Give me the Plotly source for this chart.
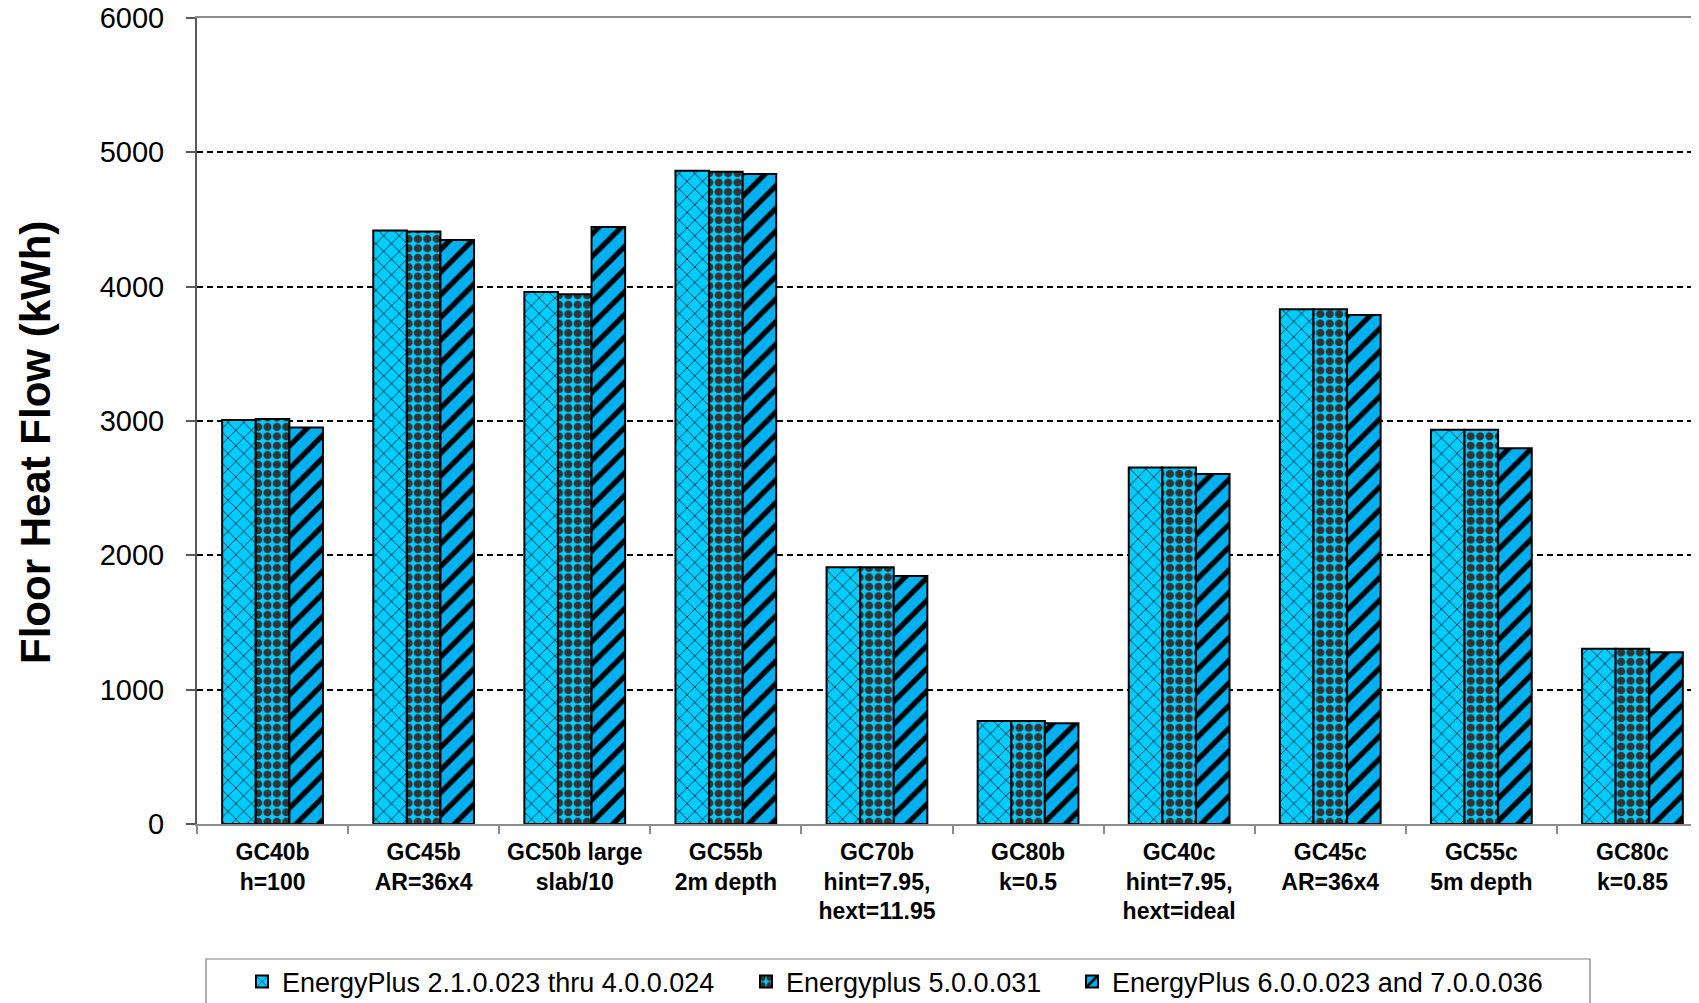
import plotly.graph_objects as go

categories = [
    "GC40b<br>h=100",
    "GC45b<br>AR=36x4",
    "GC50b large<br>slab/10",
    "GC55b<br>2m depth",
    "GC70b<br>hint=7.95,<br>hext=11.95",
    "GC80b<br>k=0.5",
    "GC40c<br>hint=7.95,<br>hext=ideal",
    "GC45c<br>AR=36x4",
    "GC55c<br>5m depth",
    "GC80c<br>k=0.85",
]
series_names = [
    "EnergyPlus 2.1.0.023 thru 4.0.0.024",
    "Energyplus 5.0.0.031",
    "EnergyPlus 6.0.0.023 and 7.0.0.036",
]
ep_2_1_to_4_0 = [3008, 4419, 3960, 4863, 1911, 766, 2653, 3831, 2935, 1304]
ep_5_0 = [3014, 4411, 3944, 4855, 1911, 766, 2653, 3831, 2935, 1304]
ep_6_0_and_7_0 = [2952, 4347, 4444, 4839, 1847, 750, 2605, 3790, 2798, 1279]
y_ticks = [0, 1000, 2000, 3000, 4000, 5000, 6000]
y_title = "Floor Heat Flow (kWh)"

FONT = "Arial, Liberation Sans, sans-serif"
OFF = 8                      # default page body margin
W, H = 1699, 1003
L, T, B, R = 197 - OFF, 18 - OFF, 179 + OFF, OFF
plot_h = H - T - B           # 806
plot_w = W - L - R           # 1502
y0px = T + plot_h            # figure px of the x axis


def fx(px):  # page px -> paper x
    return (px - OFF - L) / plot_w


def fy(px):  # page px -> paper y
    return (y0px - (px - OFF)) / plot_h


styles = [
    dict(shape="x", bgcolor="#00CCFF", fgcolor="#000000", size=11, solidity=0.12),
    dict(shape=".", bgcolor="#00CCFF", fgcolor="#333333", size=9.4, solidity=0.6),
    dict(shape="/", bgcolor="#00B0F0", fgcolor="#000000", size=16, solidity=0.33),
]
legend_ids = ["legend", "legend2", "legend3"]
legend_text_px = [283, 787, 1113]   # page px where each legend text starts

fig = go.Figure()
for name, vals, st, lg in zip(series_names, [ep_2_1_to_4_0, ep_5_0, ep_6_0_and_7_0], styles, legend_ids):
    fig.add_trace(go.Bar(
        x=categories, y=vals, name=name, legend=lg,
        marker=dict(
            color=st["bgcolor"],
            line=dict(color="#000000", width=2),
            pattern=dict(shape=st["shape"], bgcolor=st["bgcolor"], fgcolor=st["fgcolor"],
                         fgopacity=1, size=st["size"], solidity=st["solidity"],
                         fillmode="overlay"),
        ),
    ))

legend_common = dict(
    orientation="h", xref="container", yref="container",
    xanchor="left", yanchor="middle", y=1 - (982 - OFF) / H,
    font=dict(family=FONT, size=27, color="#000000"),
    bgcolor="rgba(0,0,0,0)", borderwidth=0,
)
layout_legends = {}
for lg, tx in zip(legend_ids, legend_text_px):
    layout_legends[lg] = dict(legend_common, x=(tx - OFF - 41) / W)

fig.update_layout(
    width=W, height=H,
    margin=dict(l=L, r=R, t=T, b=B, autoexpand=False),
    paper_bgcolor="white", plot_bgcolor="white",
    barmode="group", bargap=0.333, bargroupgap=0,
    font=dict(family=FONT, color="#000000"),
    showlegend=True,
    **layout_legends,
)
# legend frame
fig.add_shape(
    type="rect", xref="paper", yref="paper", layer="below",
    x0=fx(206), x1=fx(1590), y0=fy(1045), y1=fy(959),
    line=dict(color="#808080", width=1.2), fillcolor="white",
)
fig.add_annotation(
    text="<b>" + y_title + "</b>", textangle=-90, showarrow=False,
    xref="paper", yref="paper", x=fx(36), y=fy(443),
    xanchor="center", yanchor="middle",
    font=dict(family=FONT, size=42, color="#000000"),
)

fig.update_xaxes(
    type="category", automargin=False,
    range=[-0.5, -0.5 + (1699 - 197) / 151.1],
    showline=True, linecolor="#8c8c8c", linewidth=2, mirror=True,
    ticks="outside", tickson="boundaries", ticklen=8, tickcolor="#8c8c8c", tickwidth=1.5,
    tickfont=dict(family=FONT, size=23, color="#000000", weight="bold"),
    ticklabelstandoff=6, ticklabeloverflow="allow",
    showgrid=False,
)
fig.update_yaxes(
    automargin=False,
    range=[0, 6000], tickvals=y_ticks,
    showline=True, linecolor="#595959", linewidth=2,
    ticks="outside", ticklen=9, tickcolor="#595959", tickwidth=1.5,
    tickfont=dict(family=FONT, size=29, color="#000000"),
    ticklabelstandoff=16, ticklabeloverflow="allow",
    showgrid=True, gridcolor="#000000", gridwidth=1.5, griddash="6px,4px",
    zeroline=False,
)

fig.write_html("out.html")
